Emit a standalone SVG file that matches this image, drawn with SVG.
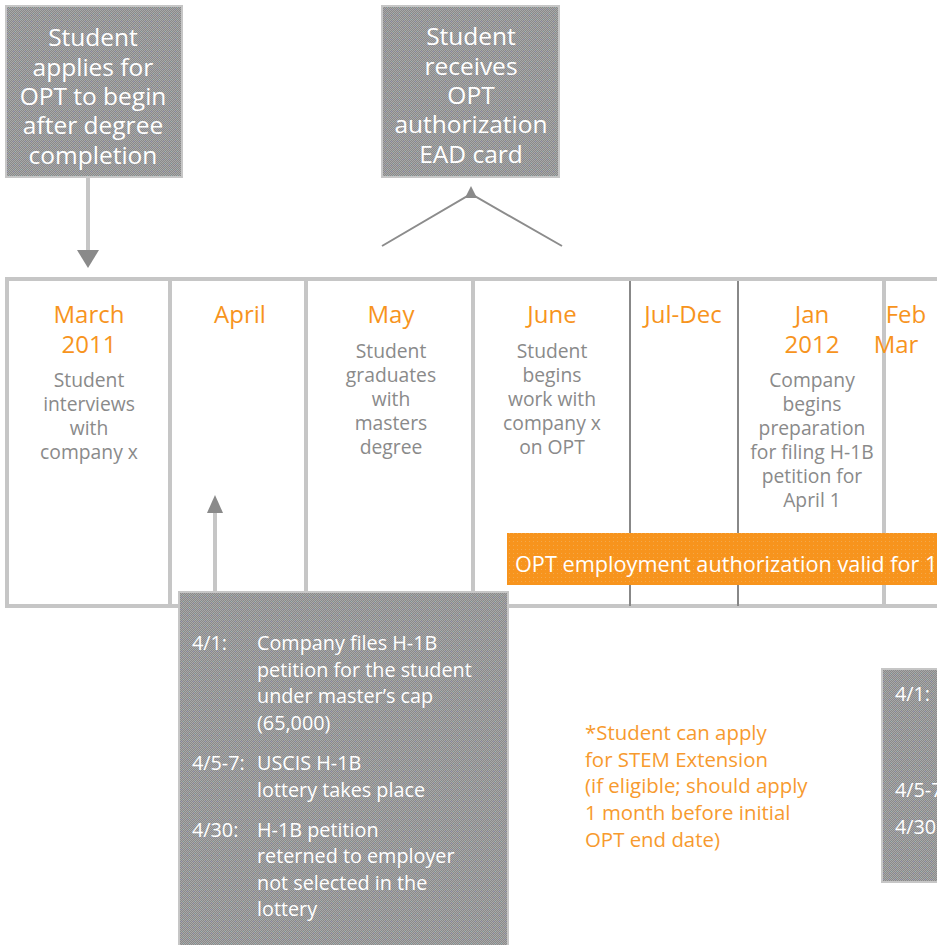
<svg xmlns="http://www.w3.org/2000/svg" width="937" height="945" viewBox="0 0 937 945">
<defs>
<pattern id="chk" x="0" y="0" width="6" height="6" patternUnits="userSpaceOnUse">
<rect width="6" height="6" fill="#8a8a8a"/>
<rect x="0" y="0" width="1" height="1" fill="#a8a8a8"/><rect x="2" y="0" width="1" height="1" fill="#a8a8a8"/><rect x="4" y="0" width="1" height="1" fill="#a8a8a8"/>
<rect x="1" y="1" width="1" height="1" fill="#a8a8a8"/><rect x="3" y="1" width="1" height="1" fill="#9ab8b8"/><rect x="5" y="1" width="1" height="1" fill="#a8a8a8"/>
<rect x="0" y="2" width="1" height="1" fill="#a8a8a8"/><rect x="2" y="2" width="1" height="1" fill="#a8a8a8"/><rect x="4" y="2" width="1" height="1" fill="#a8a8a8"/>
<rect x="1" y="3" width="1" height="1" fill="#9c9cc0"/><rect x="3" y="3" width="1" height="1" fill="#a8a8a8"/><rect x="5" y="3" width="1" height="1" fill="#a8a8a8"/>
<rect x="0" y="4" width="1" height="1" fill="#a8a8a8"/><rect x="2" y="4" width="1" height="1" fill="#a8a8a8"/><rect x="4" y="4" width="1" height="1" fill="#a8a8a8"/>
<rect x="1" y="5" width="1" height="1" fill="#a8a8a8"/><rect x="3" y="5" width="1" height="1" fill="#a8a8a8"/><rect x="5" y="5" width="1" height="1" fill="#a8a8a8"/>
</pattern>
<pattern id="org" x="0" y="0" width="4" height="4" patternUnits="userSpaceOnUse">
<rect width="4" height="4" fill="#f7941d"/>
<rect x="1" y="1" width="1" height="1" fill="#f4a849"/>
</pattern>
</defs>
<style>
.box{fill:url(#chk);stroke:#c6c6c6;stroke-width:2}
.bt{font-family:"Open Sans","Liberation Sans",sans-serif;font-size:24.5px;fill:#ffffff;text-anchor:middle}
.mo{font-family:"Open Sans","Liberation Sans",sans-serif;font-size:24px;fill:#f7941d;text-anchor:middle}
.bd{font-family:"Open Sans","Liberation Sans",sans-serif;font-size:19.3px;fill:#8a8a8a;text-anchor:middle}
.wt{font-family:"Open Sans","Liberation Sans",sans-serif;font-size:19.8px;fill:#ffffff}
.nt{font-family:"Open Sans","Liberation Sans",sans-serif;font-size:20.4px;fill:#f79a2e}
.lg{stroke:#c6c6c6;stroke-width:4;fill:none}
.dg{stroke:#888888;stroke-width:2;fill:none}
.ah{fill:#8a8a8a}
</style>
<rect width="937" height="945" fill="#ffffff"/>

<g id="timeline">
<line class="lg" x1="5" y1="279" x2="937" y2="279" stroke-width="5"/>
<line class="lg" x1="5" y1="606" x2="937" y2="606"/>
<line class="lg" x1="7" y1="277" x2="7" y2="608"/>
<line class="lg" x1="170" y1="277" x2="170" y2="608"/>
<line class="lg" x1="306" y1="277" x2="306" y2="608"/>
<line class="lg" x1="473" y1="277" x2="473" y2="608"/>
<line class="dg" x1="630" y1="281" x2="630" y2="606"/>
<line class="dg" x1="738" y1="281" x2="738" y2="606"/>
<line class="lg" x1="884" y1="277" x2="884" y2="608"/>
</g>

<g id="col-march">
<text class="mo" x="89" y="323">March</text>
<text class="mo" x="89" y="353">2011</text>
<text class="bd" x="89" y="387">Student</text>
<text class="bd" x="89" y="411">interviews</text>
<text class="bd" x="89" y="435">with</text>
<text class="bd" x="89" y="459">company x</text>
</g>
<g id="col-april">
<text class="mo" x="240" y="323">April</text>
</g>
<g id="col-may">
<text class="mo" x="391" y="323">May</text>
<text class="bd" x="391" y="358">Student</text>
<text class="bd" x="391" y="382">graduates</text>
<text class="bd" x="391" y="406">with</text>
<text class="bd" x="391" y="430">masters</text>
<text class="bd" x="391" y="454">degree</text>
</g>
<g id="col-june">
<text class="mo" x="552" y="323">June</text>
<text class="bd" x="552" y="358">Student</text>
<text class="bd" x="552" y="382">begins</text>
<text class="bd" x="552" y="406">work with</text>
<text class="bd" x="552" y="430">company x</text>
<text class="bd" x="552" y="454">on OPT</text>
</g>
<g id="col-juldec">
<text class="mo" x="683" y="323">Jul-Dec</text>
</g>
<g id="col-jan">
<text class="mo" x="812" y="323">Jan</text>
<text class="mo" x="812" y="353">2012</text>
<text class="bd" x="812" y="387">Company</text>
<text class="bd" x="812" y="411">begins</text>
<text class="bd" x="812" y="435">preparation</text>
<text class="bd" x="812" y="459">for filing H-1B</text>
<text class="bd" x="812" y="483">petition for</text>
<text class="bd" x="812" y="507">April 1</text>
</g>
<g id="col-febmar">
<text class="mo" x="906" y="323" text-anchor="start">Feb</text>
<text class="mo" x="896" y="353" text-anchor="start">Mar</text>
</g>

<g id="opt-bar">
<rect x="507" y="533" width="432" height="52" fill="url(#org)"/>
<text x="515" y="572" font-family="Open Sans, Liberation Sans, sans-serif" font-size="21.7" fill="#ffffff">OPT employment authorization valid for 12</text>
</g>

<g id="connectors">
<line class="lg" x1="88" y1="177" x2="88" y2="252"/>
<polygon class="ah" points="77,250 99,250 88,268"/>
<polyline points="382,246 471,194 562,246" fill="none" stroke="#8c8c8c" stroke-width="2"/>
<polygon class="ah" points="471,186 465,198 477,198"/>
<line class="lg" x1="215" y1="592" x2="215" y2="508" stroke-width="3"/>
<polygon class="ah" points="215,495 207,513 223,513"/>
</g>

<g id="box-applies">
<rect class="box" x="6" y="6" width="176" height="171"/>
<text class="bt" x="93" y="46">Student</text>
<text class="bt" x="93" y="76">applies for</text>
<text class="bt" x="93" y="105">OPT to begin</text>
<text class="bt" x="93" y="134">after degree</text>
<text class="bt" x="93" y="164">completion</text>
</g>

<g id="box-receives">
<rect class="box" x="382" y="6" width="177" height="171"/>
<text class="bt" x="471" y="45">Student</text>
<text class="bt" x="471" y="75">receives</text>
<text class="bt" x="471" y="104">OPT</text>
<text class="bt" x="471" y="133">authorization</text>
<text class="bt" x="471" y="163">EAD card</text>
</g>

<g id="box-h1b">
<rect class="box" x="179" y="592" width="329" height="355"/>
<text class="wt" x="192" y="650">4/1:</text>
<text class="wt" x="257" y="650">Company files H-1B</text>
<text class="wt" x="257" y="677">petition for the student</text>
<text class="wt" x="257" y="703">under master’s cap</text>
<text class="wt" x="257" y="730">(65,000)</text>
<text class="wt" x="192" y="770">4/5-7:</text>
<text class="wt" x="257" y="770">USCIS H-1B</text>
<text class="wt" x="257" y="797">lottery takes place</text>
<text class="wt" x="192" y="837">4/30:</text>
<text class="wt" x="257" y="837">H-1B petition</text>
<text class="wt" x="257" y="863">reterned to employer</text>
<text class="wt" x="257" y="890">not selected in the</text>
<text class="wt" x="257" y="916">lottery</text>
</g>

<g id="box-h1b-2">
<rect class="box" x="882" y="669" width="57" height="213"/>
<text class="wt" x="895" y="701">4/1:</text>
<text class="wt" x="895" y="797">4/5-7:</text>
<text class="wt" x="895" y="834">4/30:</text>
</g>

<g id="note-stem">
<text class="nt" x="585" y="740">*Student can apply</text>
<text class="nt" x="585" y="767">for STEM Extension</text>
<text class="nt" x="585" y="793">(if eligible; should apply</text>
<text class="nt" x="585" y="820">1 month before initial</text>
<text class="nt" x="585" y="847">OPT end date)</text>
</g>
</svg>
